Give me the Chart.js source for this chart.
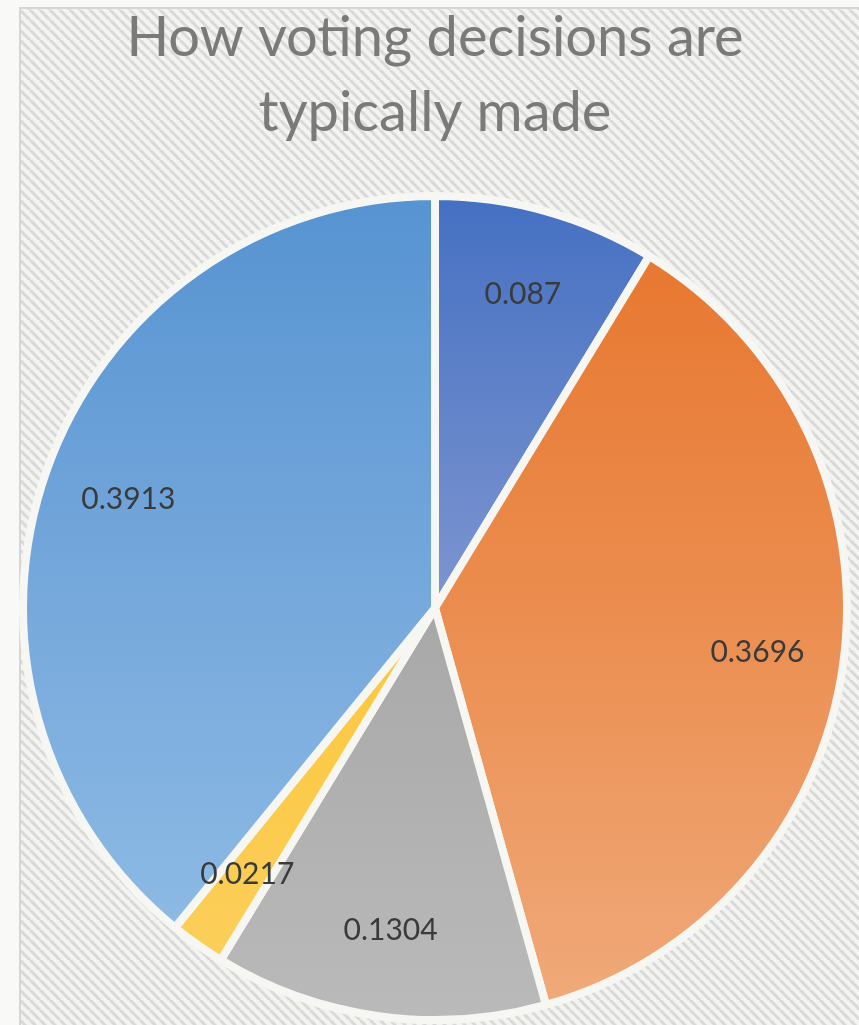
<!DOCTYPE html>
<html>
<head>
<meta charset="utf-8">
<script src="https://cdn.jsdelivr.net/npm/chart.js@4/dist/chart.umd.min.js"></script>
<style>
  html, body { margin: 0; padding: 0; background: #f9f9f7; }
  #wrap { width: 859px; height: 1025px; }
</style>
</head>
<body>
<div id="wrap"><canvas id="pieChart" width="859" height="1025"></canvas></div>
<script>
const titleLines = ['How voting decisions are', 'typically made']
const categories = ['A', 'B', 'C', 'D', 'E']
const values = [0.087, 0.3696, 0.1304, 0.0217, 0.3913]
const labelText = ['0.087', '0.3696', '0.1304', '0.0217', '0.3913']

// top / middle / bottom colour of each slice (vertical gradient over the pie)
const sliceTop = ['#4470c2', '#e7742b', '#a3a3a3', '#f7bd1e', '#5693d1']
const sliceMid = ['#7e95d0', '#eb8d4f', '#a8a8a8', '#fbc73c', '#77a9dc']
const sliceBottom = ['#b3c1e6', '#f0ab7c', '#bababa', '#fcd060', '#93bfe7']

function stripes() {
  const c = document.createElement('canvas')
  c.width = 10; c.height = 10
  const g = c.getContext('2d')
  g.fillStyle = '#f3f3f1'
  g.fillRect(0, 0, 10, 10)
  g.strokeStyle = '#d9d9d7'
  g.lineWidth = 3
  for (let k = -10; k <= 20; k += 10) {
    g.beginPath()
    g.moveTo(k, 0)
    g.lineTo(k + 10, 10)
    g.stroke()
  }
  return c
}

const backdrop = {
  id: 'backdrop',
  beforeDraw(chart) {
    const ctx = chart.ctx
    ctx.save()
    ctx.fillStyle = '#f9f9f7'
    ctx.fillRect(0, 0, chart.width, chart.height)
    ctx.fillStyle = ctx.createPattern(stripes(), 'repeat')
    ctx.fillRect(20, 8, chart.width, chart.height)
    ctx.strokeStyle = '#d6d6d4'
    ctx.lineWidth = 2
    ctx.strokeRect(20, 8, chart.width + 10, chart.height + 10)
    ctx.restore()
  }
}

const sliceLabels = {
  id: 'sliceLabels',
  afterDatasetsDraw(chart) {
    const ctx = chart.ctx
    const meta = chart.getDatasetMeta(0)
    ctx.save()
    ctx.font = '30px Lato'
    ctx.fillStyle = '#3a3a3a'
    ctx.textAlign = 'center'
    ctx.textBaseline = 'middle'
    meta.data.forEach((arc, i) => {
      const p = arc.getProps(['x', 'y', 'startAngle', 'endAngle', 'outerRadius'])
      const mid = (p.startAngle + p.endAngle) / 2
      const r = p.outerRadius * 0.79
      ctx.fillText(labelText[i], p.x + Math.cos(mid) * r, p.y + Math.sin(mid) * r)
    })
    ctx.restore()
  }
}

function sliceColor(context) {
  const i = context.dataIndex
  const area = context.chart.chartArea
  if (!area || i === undefined) return sliceTop[i || 0]
  const grad = context.chart.ctx.createLinearGradient(0, area.top, 0, area.bottom)
  grad.addColorStop(0, sliceTop[i])
  grad.addColorStop(0.5, sliceMid[i])
  grad.addColorStop(1, sliceBottom[i])
  return grad
}

const ctx = document.getElementById('pieChart').getContext('2d')
const chart = new Chart(ctx, {
  type: 'pie',
  data: {
    labels: categories,
    datasets: [{
      data: values,
      backgroundColor: sliceColor,
      borderColor: '#f6f6f2',
      borderWidth: 8,
      hoverOffset: 0
    }]
  },
  options: {
    responsive: false,
    animation: false,
    layout: {
      padding: { left: 19, right: 8, top: 0, bottom: 0 }
    },
    plugins: {
      legend: { display: false },
      tooltip: { enabled: false },
      title: {
        display: true,
        text: titleLines,
        color: '#7a7a7a',
        font: { family: 'Lato', size: 56, weight: 'normal', lineHeight: 1.34 },
        padding: { top: 0, bottom: 41 }
      }
    }
  },
  plugins: [backdrop, sliceLabels]
})
</script>
</body>
</html>
